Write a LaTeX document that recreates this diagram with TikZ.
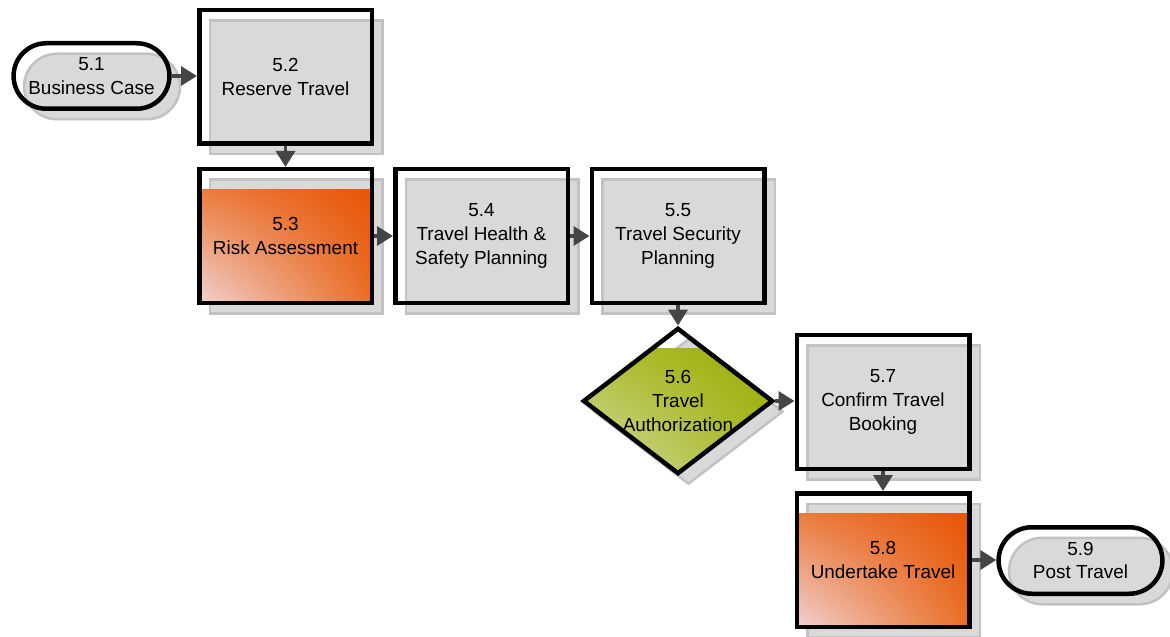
\documentclass[tikz,border=0pt]{standalone}
\usepackage{fontspec}
\setmainfont{Liberation Sans}
\usetikzlibrary{arrows.meta, calc, shapes.geometric, shapes.misc, shadows, shadings}

\definecolor{boxgrey}{HTML}{D9D9D9}
\definecolor{shadowline}{HTML}{C2C2C2}
\definecolor{flowgrey}{HTML}{454545}
\definecolor{riskdark}{HTML}{E85000}
\definecolor{riskmid}{HTML}{E96E24}
\definecolor{riskpale}{HTML}{F1D2D2}
\definecolor{gatedark}{HTML}{98AC00}
\definecolor{gatemid}{HTML}{A8B820}
\definecolor{gatepale}{HTML}{D8DEAE}

\begin{document}
\begin{tikzpicture}[x=1bp, y=1bp, line join=miter, font=\fontsize{19}{24}\selectfont,
	boxshadow/.style={drop shadow={shadow xshift=10.5bp, shadow yshift=-10.5bp,
			fill=boxgrey, draw=shadowline, line width=2.5bp, opacity=1}},
	stepbox/.style={rectangle, draw=black, line width=4.5bp, minimum width=172.5bp,
		minimum height=133.5bp, align=center, boxshadow},
	endbox/.style={rounded rectangle, draw=black, line width=4.5bp, minimum width=162.5bp,
		minimum height=65.5bp, align=center, boxshadow},
	gatediamond/.style={diamond, aspect=1.3, inner sep=0pt, draw=black, line width=4.5bp,
		align=center, boxshadow},
	riskfill/.style={path picture={
			\shade[shading=bilinear interpolation, upper left=riskmid, upper right=riskdark,
			lower left=riskpale, lower right=riskmid]
			($(path picture bounding box.north west)+(0bp,-20bp)$) rectangle
			(path picture bounding box.south east);}},
	gatefill/.style={path picture={
			\shade[shading=bilinear interpolation, upper left=gatemid, upper right=gatedark,
			lower left=gatepale, lower right=gatemid]
			($(path picture bounding box.north west)+(0bp,-20bp)$) rectangle
			(path picture bounding box.south east);}},
	flow/.style={draw=flowgrey, line width=3.5bp, -{Triangle[length=16bp, width=19bp]}}]
	
	\useasboundingbox (0,0) rectangle (1170,-637);
	
	% ===== Row 1: business case and reservation =====
	\node[endbox] (bizcase) at (91.5,-76) {5.1\\Business Case};
	\node[stepbox] (reserve) at (285.5,-77) {5.2\\Reserve Travel};
	
	% ===== Row 2: assessment and planning =====
	\node[stepbox, riskfill] (risk) at (285.5,-236) {5.3\\Risk Assessment};
	\node[stepbox] (health) at (481.5,-236) {5.4\\Travel Health \&\\Safety Planning};
	\node[stepbox] (security) at (678,-236) {5.5\\Travel Security\\Planning};
	
	% ===== Row 3: authorization gate and booking =====
	\node[gatediamond, gatefill] (authorize) at (678,-401) {5.6\\Travel\\Authorization};
	\node[stepbox] (confirm) at (883,-402) {5.7\\Confirm Travel\\Booking};
	
	% ===== Row 4: travel and post travel =====
	\node[stepbox, riskfill] (undertake) at (883,-560) {5.8\\Undertake Travel};
	\node[endbox, minimum width=170.5bp, minimum height=66.5bp] (posttravel) at (1080.5,-560.5) {5.9\\Post Travel};
	
	% connectors
	\draw[flow] (bizcase.east) -- (bizcase.east -| reserve.west);
	\draw[flow] (reserve) -- (risk);
	\draw[flow] (risk) -- (health);
	\draw[flow] (health) -- (security);
	\draw[flow] (security) -- (authorize);
	\draw[flow] (authorize.east) -- (authorize.east -| confirm.west);
	\draw[flow] (confirm) -- (undertake);
	\draw[flow] (undertake.east) -- (undertake.east -| posttravel.west);
	
\end{tikzpicture}
\end{document}
